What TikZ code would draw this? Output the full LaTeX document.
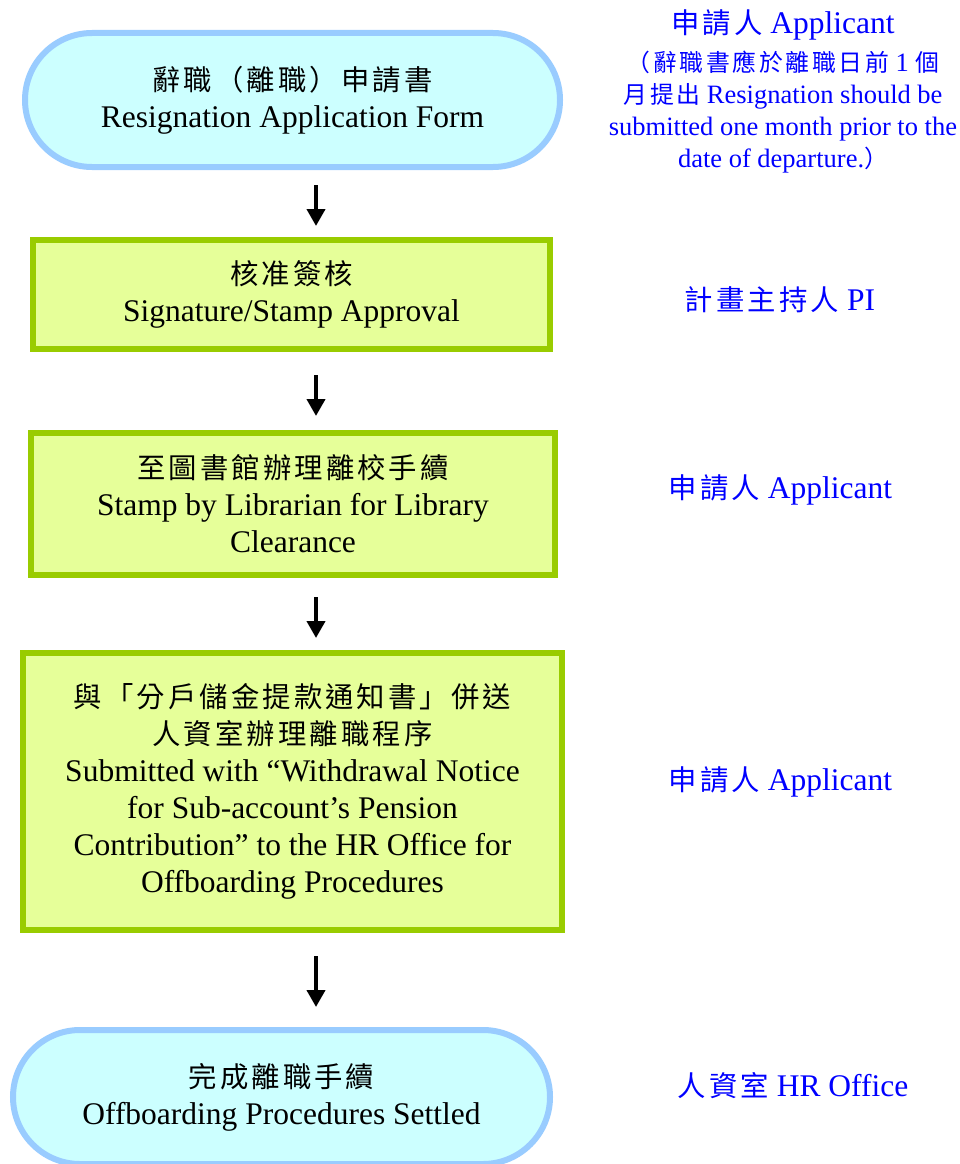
\documentclass[tikz,border=0pt]{standalone}
\usepackage{fontspec}
\setmainfont{Liberation Serif}
\newfontfamily\cjk[Scale=0.9,LetterSpace=11]{Noto Sans CJK TC}
\usepackage{xcolor}
\usepackage{tikz}
\usetikzlibrary{arrows.meta}
\definecolor{capfill}{HTML}{CCFFFF}
\definecolor{capline}{HTML}{99CCFF}
\definecolor{boxfill}{HTML}{E6FF99}
\definecolor{boxline}{HTML}{99CC00}

\begin{document}
\begin{tikzpicture}[x=1pt, y=-1pt,
  capsule/.style={draw=capline, fill=capfill, line width=6pt, rounded corners=67pt, align=center, font=\fontsize{31.5}{37}\selectfont},
  stepbox/.style={draw=boxline, fill=boxfill, line width=6pt, align=center, font=\fontsize{31.5}{37}\selectfont},
  role/.style={text=blue, align=center, font=\fontsize{31.5}{37}\selectfont},
  rolenote/.style={text=blue, align=center, font=\fontsize{26.5}{32}\selectfont},
  flowarrow/.style={-{Triangle[width=18pt,length=17pt]}, line width=4pt}]
  \useasboundingbox[fill=white] (0,0) rectangle (960,1164);
  \coordinate (spine) at (316,0);
  \node[capsule, minimum width=535pt, minimum height=134pt] (apply) at (292.5,100) {{\cjk 辭職（離職）申請書}\\Resignation Application Form};
  \node[stepbox, minimum width=517pt, minimum height=109pt] (sign) at (291.5,294.5) {{\cjk 核准簽核}\\Signature/Stamp Approval};
  \node[stepbox, minimum width=524pt, minimum height=142pt] (library) at (293,504) {{\cjk 至圖書館辦理離校手續}\\Stamp by Librarian for Library\\Clearance};
  \node[stepbox, minimum width=539pt, minimum height=277pt] (submit) at (292.5,791.5) {{\cjk 與「分戶儲金提款通知書」併送}\\{\cjk 人資室辦理離職程序}\\Submitted with “Withdrawal Notice\\for Sub-account’s Pension\\Contribution” to the HR Office for\\Offboarding Procedures};
  \node[capsule, minimum width=537pt, minimum height=134pt] (settled) at (281.5,1097) {{\cjk 完成離職手續}\\Offboarding Procedures Settled};
  \draw[flowarrow, shorten <=15pt, shorten >=11pt] (apply.south -| spine) -- (sign.north -| spine);
  \draw[flowarrow, shorten <=23pt, shorten >=14pt] (sign.south -| spine) -- (library.north -| spine);
  \draw[flowarrow, shorten <=19pt, shorten >=12pt] (library.south -| spine) -- (submit.north -| spine);
  \draw[flowarrow, shorten <=23pt, shorten >=20pt] (submit.south -| spine) -- (settled.north -| spine);
  \node[role] (who1) at (783,25) {{\cjk 申請人} Applicant};
  \node[rolenote] (note1) at (783,112) {{\cjk （辭職書應於離職日前} 1 {\cjk 個}\\{\cjk 月提出} Resignation should be\\submitted one month prior to the\\date of departure.{\cjk ）}};
  \node[role] (who2) at (780,300) {{\cjk 計畫主持人} PI};
  \node[role] (who3) at (780.5,490) {{\cjk 申請人} Applicant};
  \node[role] (who4) at (780.5,782) {{\cjk 申請人} Applicant};
  \node[role] (who5) at (793,1086) {{\cjk 人資室} HR Office};
\end{tikzpicture}
\end{document}
